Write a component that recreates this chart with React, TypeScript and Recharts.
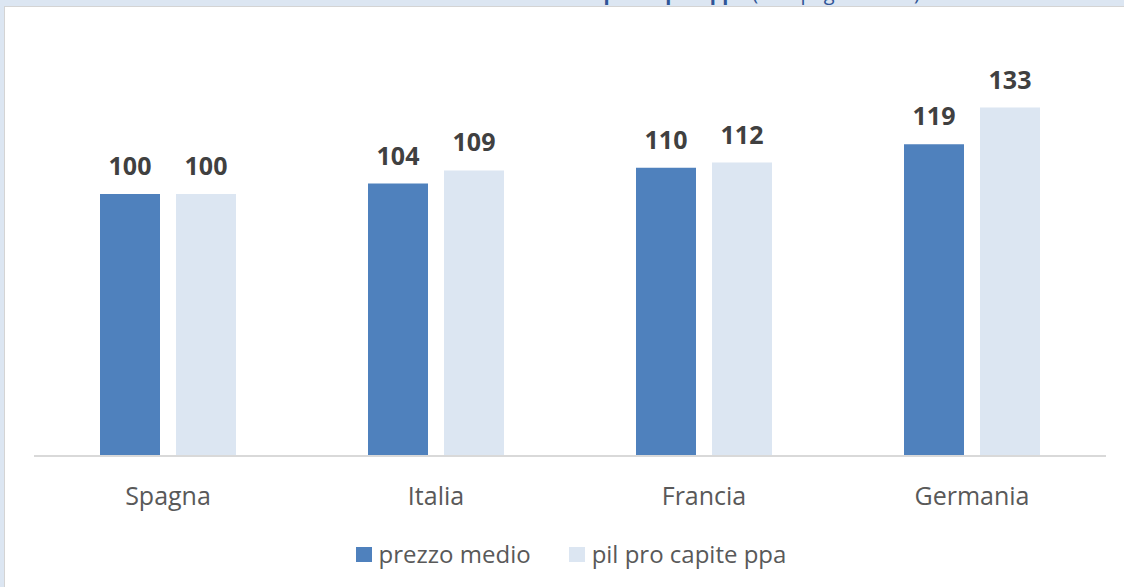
import React from 'react';
import { BarChart, Bar, XAxis, YAxis, Legend, LabelList } from 'recharts';

const countries = ['Spagna', 'Italia', 'Francia', 'Germania'];
const prezzoMedio = [100, 104, 110, 119];
const pilProCapite = [100, 109, 112, 133];

const data = countries.map((name, i) => ({
  name,
  prezzo: prezzoMedio[i],
  pil: pilProCapite[i],
}));

const DARK = '#4f81bd';
const LIGHT = '#dce6f2';
const FONT = '"Open Sans", "Noto Sans", sans-serif';

const labelStyle = { fontFamily: FONT, fontSize: 25, fontWeight: 700, fill: '#404040' };

const LegendContent = () => (
  <div
    style={{
      display: 'flex',
      justifyContent: 'center',
      alignItems: 'center',
      paddingTop: 25,
      paddingLeft: 2,
      fontFamily: FONT,
      fontSize: 24,
      color: '#595959',
      lineHeight: '26px',
    }}
  >
    <span style={{ display: 'flex', alignItems: 'center', marginRight: 38 }}>
      <span style={{ width: 16, height: 15, background: DARK, marginRight: 7 }} />
      prezzo medio
    </span>
    <span style={{ display: 'flex', alignItems: 'center' }}>
      <span style={{ width: 16, height: 15, background: LIGHT, marginRight: 7 }} />
      pil pro capite ppa
    </span>
  </div>
);

export default function App() {
  return (
    <div
      style={{
        position: 'fixed',
        left: 0,
        top: 0,
        width: 1124,
        height: 587,
        background: LIGHT,
        overflow: 'hidden',
      }}
    >
      {/* title, mostly cut off by the panel */}
      <div style={{ position: 'absolute', left: 0, top: 0, width: 1124, height: 7, overflow: 'hidden' }}>
        <div
          style={{
            position: 'absolute',
            right: 204,
            top: -17,
            whiteSpace: 'nowrap',
            fontFamily: FONT,
            fontSize: 20,
            lineHeight: '20px',
            color: '#2f5597',
          }}
        >
          <b>Reddito pro capite ppa</b> (es. Spagna = 100)
        </div>
      </div>
      <div
        style={{
          position: 'absolute',
          left: 4,
          top: 6,
          width: 1119,
          height: 580,
          background: '#fff',
          borderLeft: '1px solid #d4d4d4',
          borderTop: '1px solid #d4d4d4',
        }}
      >
        <BarChart
          width={1119}
          height={580}
          data={data}
          margin={{ top: 56, right: 18, left: 29, bottom: 0 }}
          barCategoryGap={66}
          barGap={16}
        >
          <XAxis
            dataKey="name"
            axisLine={{ stroke: '#d9d9d9', strokeWidth: 2 }}
            tickLine={false}
            tickSize={0}
            tickMargin={31}
            height={60}
            tick={{ fontFamily: FONT, fontSize: 25, fill: '#595959' }}
          />
          <YAxis hide domain={[0, 150]} />
          <Legend verticalAlign="bottom" height={71} content={<LegendContent />} />
          <Bar dataKey="prezzo" fill={DARK} isAnimationActive={false}>
            <LabelList dataKey="prezzo" position="top" offset={19} style={labelStyle} />
          </Bar>
          <Bar dataKey="pil" fill={LIGHT} isAnimationActive={false}>
            <LabelList dataKey="pil" position="top" offset={19} style={labelStyle} />
          </Bar>
        </BarChart>
      </div>
    </div>
  );
}
